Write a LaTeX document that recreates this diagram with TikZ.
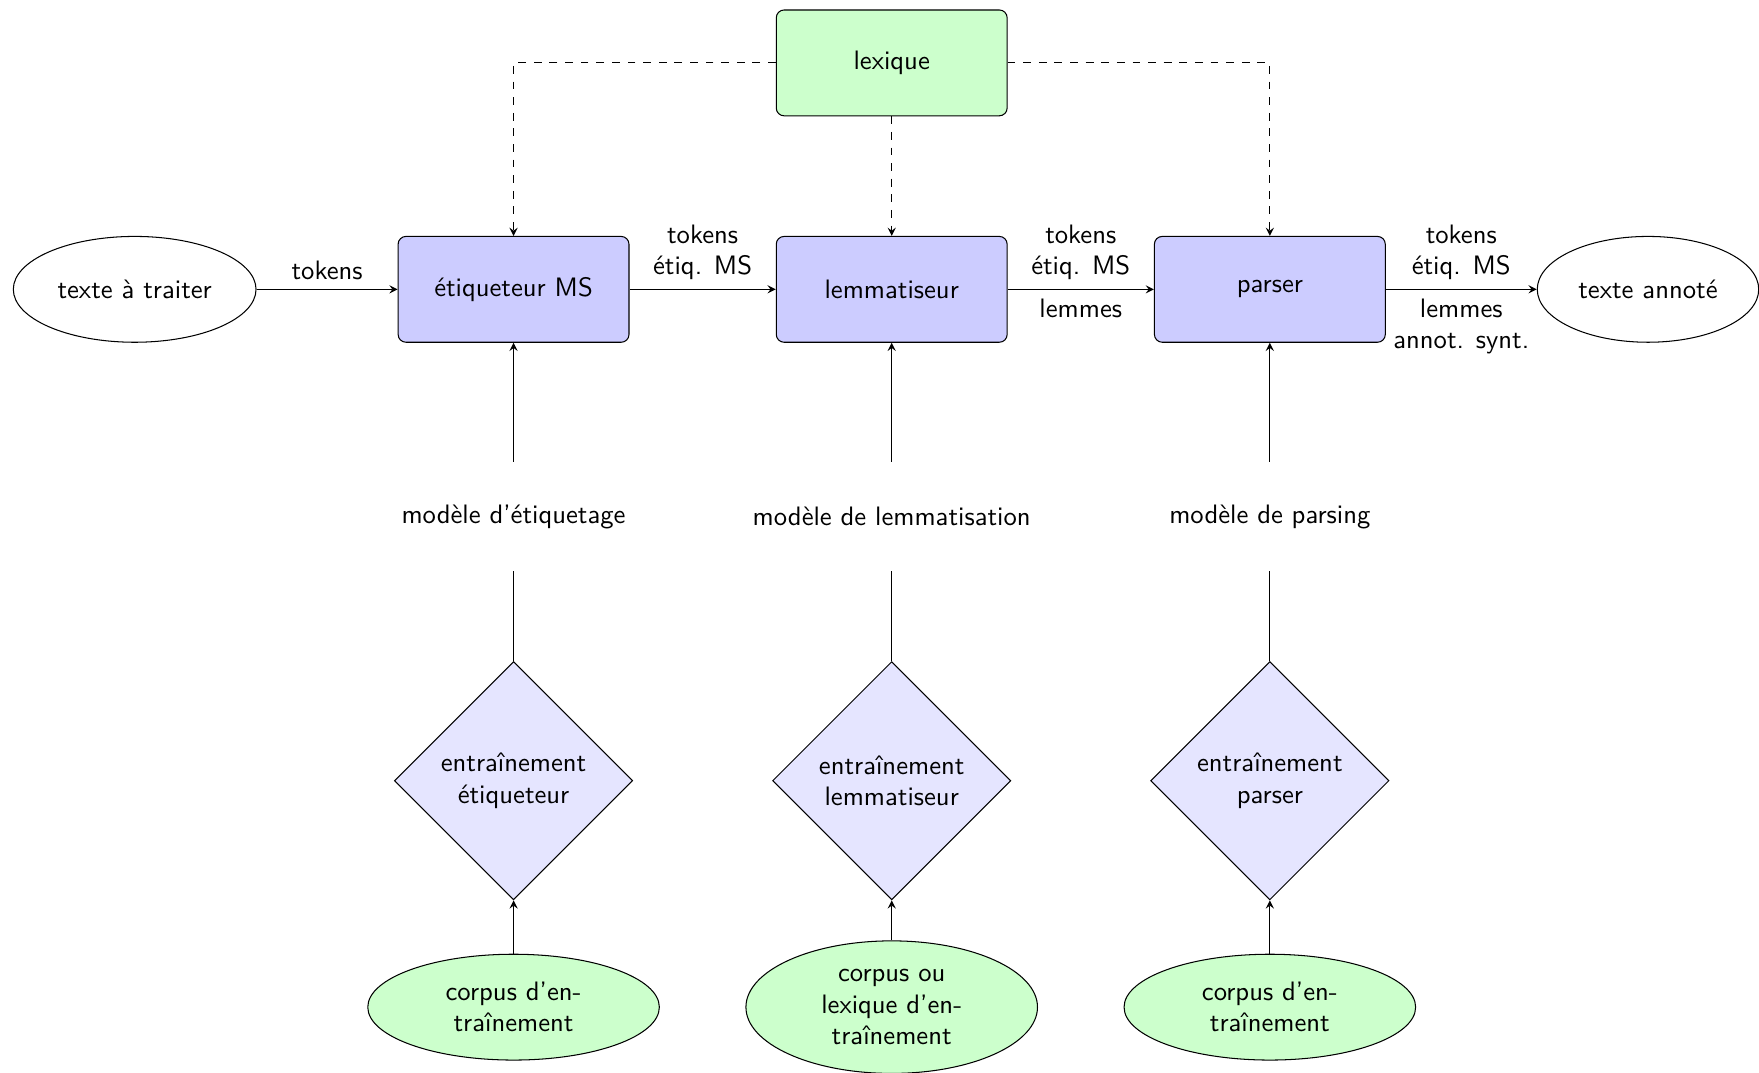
\documentclass[tikz,border=0pt]{standalone}
\usepackage{fontspec}
\usetikzlibrary{shapes.geometric}
\begin{document}
\begin{tikzpicture}[>=stealth, font=\sffamily\fontsize{10.25pt}{12pt}\selectfont,
  module/.style={draw, rectangle, rounded corners=3pt, fill=blue!20, minimum width=3.12cm, minimum height=1.43cm},
  ressource/.style={draw, rectangle, rounded corners=3pt, fill=green!20, minimum width=3.12cm, minimum height=1.43cm},
  texte/.style={draw, ellipse, minimum height=1.43cm},
  modele/.style={minimum height=1.46cm},
  apprent/.style={draw, diamond, fill=blue!10, align=center, minimum size=3.22cm},
  corpus/.style={draw, ellipse, fill=green!20, align=center, inner ysep=3.6pt, minimum width=3.94cm, minimum height=1.43cm}]
  \useasboundingbox (0,0) rectangle (23.77,-14.5);
  % main chain
  \node[texte] (entree) at (1.82,-3.91) {texte à traiter};
  \node[module] (etiq) at (6.94,-3.91) {étiqueteur MS};
  \node[module] (lemm) at (12.05,-3.91) {lemmatiseur};
  \node[module] (pars) at (17.16,-3.91) {parser};
  \node[texte] (sortie) at (22.27,-3.91) {texte annoté};
  \node[ressource] (lex) at (12.05,-0.85) {lexique};
  \draw[->] (entree) -- node[above] {tokens} (etiq);
  \draw[->] (etiq) -- node[above,align=center] {tokens\\étiq. MS} (lemm);
  \draw[->] (lemm) -- node[above,align=center] {tokens\\étiq. MS} node[below] {lemmes} (pars);
  \draw[->] (pars) -- node[above,align=center] {tokens\\étiq. MS} node[below,align=center] {lemmes\\annot. synt.} (sortie);
  % lexicon
  \draw[->,dashed] (lex.west) -| (etiq.north);
  \draw[->,dashed] (lex) -- (lemm);
  \draw[->,dashed] (lex.east) -| (pars.north);
  % training columns
  \foreach \col/\x/\modele/\train/\corp in {
    etiq/6.94/{modèle d'étiquetage}/{entraînement\\étiqueteur}/{corpus d'en-\\traînement},
    lemm/12.05/{modèle de lemmatisation}/{entraînement\\lemmatiseur}/{corpus ou\\lexique d'en-\\traînement},
    pars/17.16/{modèle de parsing}/{entraînement\\parser}/{corpus d'en-\\traînement}}{
    \node[modele] (mod-\col) at (\x,-6.98) {\modele};
    \node[apprent] (app-\col) at (\x,-10.55) {\train};
    \node[corpus] (corp-\col) at (\x,-13.61) {\corp};
    \draw[->] (corp-\col) -- (app-\col);
    \draw (app-\col) -- (mod-\col);
    \draw[->] (mod-\col) -- (\col);
  }
\end{tikzpicture}
\end{document}
